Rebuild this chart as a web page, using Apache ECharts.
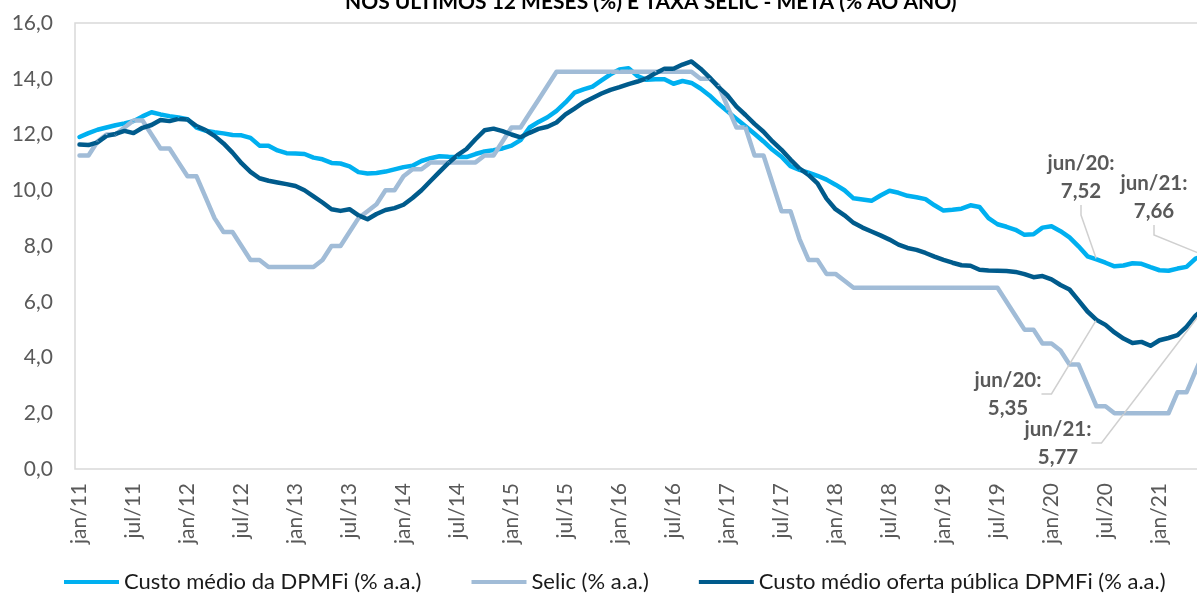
<!DOCTYPE html>
<html>
<head>
<meta charset="utf-8">
<script src="https://cdn.jsdelivr.net/npm/echarts/dist/echarts.min.js"></script>
<style>
html,body{margin:0;padding:0;overflow:hidden;background:#fff;}
#c{width:1230px;height:593px;}
</style>
</head>
<body>
<div id="c"></div>
<script>
// ---- data ----
const MONTHS = ['jan','fev','mar','abr','mai','jun','jul','ago','set','out','nov','dez'];
const YEARS = ['11','12','13','14','15','16','17','18','19','20','21'];
const N_MONTHS = 126; // jan/11 .. jun/21

const custoMedioDPMFi = [
 11.91,12.05,12.17,12.25,12.33,12.40,12.48,12.65,12.80,12.72,12.66,12.61,
 12.55,12.25,12.14,12.08,12.04,11.98,11.97,11.88,11.60,11.60,11.43,11.33,
 11.32,11.30,11.17,11.11,10.98,10.96,10.86,10.65,10.60,10.62,10.67,10.75,
 10.83,10.88,11.05,11.15,11.22,11.20,11.19,11.19,11.30,11.39,11.44,11.50,
 11.60,11.80,12.25,12.45,12.62,12.85,13.15,13.50,13.62,13.72,13.94,14.16,
 14.33,14.38,14.10,13.96,13.98,13.98,13.82,13.92,13.85,13.65,13.40,13.10,
 12.83,12.56,12.30,12.03,11.75,11.45,11.20,10.86,10.73,10.63,10.52,10.38,
 10.20,10.00,9.71,9.67,9.62,9.81,9.98,9.91,9.80,9.75,9.68,9.46,
 9.27,9.30,9.34,9.46,9.40,9.00,8.78,8.69,8.58,8.40,8.42,8.66,
 8.71,8.53,8.31,7.99,7.63,7.52,7.40,7.27,7.30,7.38,7.36,7.24,
 7.13,7.11,7.19,7.25,7.55,7.66
];
const selic = [
 11.25,11.25,11.75,12.00,12.00,12.25,12.50,12.50,12.00,11.50,11.50,11.00,
 10.50,10.50,9.75,9.00,8.50,8.50,8.00,7.50,7.50,7.25,7.25,7.25,
 7.25,7.25,7.25,7.50,8.00,8.00,8.50,9.00,9.25,9.50,10.00,10.00,
 10.50,10.75,10.75,11.00,11.00,11.00,11.00,11.00,11.00,11.25,11.25,11.75,
 12.25,12.25,12.75,13.25,13.75,14.25,14.25,14.25,14.25,14.25,14.25,14.25,
 14.25,14.25,14.25,14.25,14.25,14.25,14.25,14.25,14.25,14.00,14.00,13.75,
 13.00,12.25,12.25,11.25,11.25,10.25,9.25,9.25,8.25,7.50,7.50,7.00,
 7.00,6.75,6.50,6.50,6.50,6.50,6.50,6.50,6.50,6.50,6.50,6.50,
 6.50,6.50,6.50,6.50,6.50,6.50,6.50,6.00,5.50,5.00,5.00,4.50,
 4.50,4.25,3.75,3.75,3.00,2.25,2.25,2.00,2.00,2.00,2.00,2.00,
 2.00,2.00,2.75,2.75,3.50,4.25
];
const custoOfertaPublica = [
 11.64,11.62,11.72,11.95,12.02,12.13,12.05,12.24,12.34,12.52,12.48,12.56,
 12.54,12.30,12.16,11.95,11.68,11.35,10.97,10.66,10.43,10.34,10.28,10.22,
 10.15,10.00,9.78,9.56,9.32,9.26,9.32,9.10,8.96,9.15,9.29,9.36,
 9.48,9.72,10.00,10.33,10.66,10.98,11.26,11.48,11.83,12.15,12.21,12.12,
 12.00,11.90,12.06,12.20,12.28,12.43,12.72,12.93,13.15,13.31,13.47,13.60,
 13.70,13.81,13.90,14.01,14.20,14.36,14.36,14.51,14.62,14.36,14.05,13.70,
 13.40,13.00,12.70,12.38,12.10,11.75,11.45,11.10,10.78,10.55,10.25,9.70,
 9.32,9.10,8.83,8.66,8.52,8.38,8.23,8.05,7.93,7.86,7.75,7.62,
 7.50,7.40,7.31,7.29,7.15,7.12,7.11,7.10,7.07,6.99,6.88,6.92,
 6.80,6.60,6.44,6.05,5.65,5.35,5.17,4.90,4.68,4.52,4.56,4.42,
 4.62,4.70,4.80,5.10,5.50,5.77
];
const seriesNames = ['Custo médio da DPMFi (% a.a.)','Selic (% a.a.)','Custo médio oferta pública DPMFi (% a.a.)'];
const seriesColors = ['#00B0F0','#A1BCD7','#005B8C'];
const yTicks = [0,2,4,6,8,10,12,14,16];
const titleText = 'NOS ÚLTIMOS 12 MESES (%) E TAXA SELIC - META (% AO ANO)';
// annotated points: series index, category, label centre (px)
const annotations = [
 {s:0, cat:'jun/20', x:1081, y:177},
 {s:0, cat:'jun/21', x:1154, y:197},
 {s:2, cat:'jun/20', x:1008, y:394},
 {s:2, cat:'jun/21', x:1058, y:443}
];

// ---- build ----
const categories = [];
YEARS.forEach(y => MONTHS.forEach(m => categories.push(m + '/' + y)));
categories.length = N_MONTHS;

const FONT = 'Lato';
const fmt = v => v.toFixed(2).replace('.', ',');

function findAnn(s, idx){
  return annotations.find(a => a.s === s && categories.indexOf(a.cat) === idx);
}

function buildSeries(values, s){
  return {
    name: seriesNames[s],
    type: 'line',
    data: values.map((v, i) => findAnn(s, i) ? {value: v, label: {show: true}} : v),
    showSymbol: true,
    showAllSymbol: true,
    symbol: 'circle',
    symbolSize: 2,
    smooth: false,
    lineStyle: {color: seriesColors[s], width: 4.5, cap: 'round', join: 'round'},
    itemStyle: {color: seriesColors[s]},
    label: {
      show: false,
      formatter: p => p.name + ':\n' + fmt(p.value),
      fontFamily: FONT, fontWeight: 'bold', fontSize: 20.5, color: '#595959',
      lineHeight: 28, align: 'center'
    },
    labelLine: {show: true, length2: 10, smooth: false, lineStyle: {color: '#D0D0D0', width: 1.5}},
    labelLayout: p => {
      const a = findAnn(s, p.dataIndex);
      if (!a) return {};
      return {x: a.x, y: a.y, align: 'center', verticalAlign: 'middle'};
    },
    emphasis: {disabled: true},
    animation: false
  };
}

const chart = echarts.init(document.getElementById('c'), null, {renderer: 'canvas'});
chart.setOption({
  animation: false,
  backgroundColor: '#fff',
  title: {
    text: titleText, left: 345, top: -8, padding: 0,
    textStyle: {fontFamily: FONT, fontSize: 21, fontWeight: 'bold', color: '#000'}
  },
  grid: {left: 75, right: 21, top: 23, bottom: 124, show: true, borderColor: '#D9D9D9', borderWidth: 1.5, containLabel: false},
  legend: {
    left: 59, top: 566, icon: 'rect', itemWidth: 55, itemHeight: 4, itemGap: 50,
    textStyle: {fontFamily: FONT, fontSize: 22, color: '#1a1a1a'},
    data: seriesNames
  },
  xAxis: {
    type: 'category', data: categories, boundaryGap: true,
    axisLine: {show: false}, axisTick: {show: false}, splitLine: {show: false},
    axisLabel: {interval: 5, rotate: 90, margin: 14, fontFamily: FONT, fontSize: 21, color: '#595959'}
  },
  yAxis: {
    type: 'value', min: yTicks[0], max: yTicks[yTicks.length-1], interval: yTicks[1]-yTicks[0],
    axisLine: {show: false}, axisTick: {show: false}, splitLine: {show: false},
    axisLabel: {margin: 22, fontFamily: FONT, fontSize: 21, color: '#595959', formatter: v => v.toFixed(1).replace('.', ',')}
  },
  series: [buildSeries(custoMedioDPMFi, 0), buildSeries(selic, 1), buildSeries(custoOfertaPublica, 2)]
});
</script>
</body>
</html>
